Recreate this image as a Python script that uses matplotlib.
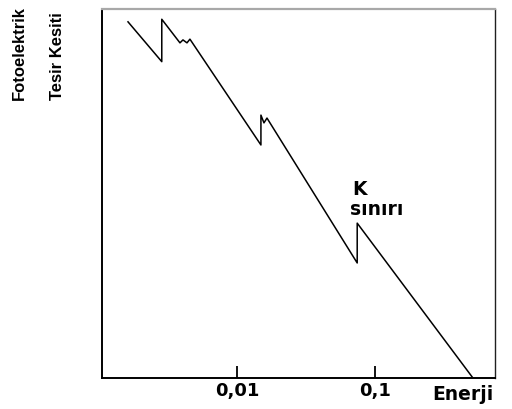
import matplotlib
matplotlib.use("Agg")
import matplotlib.pyplot as plt

# Data (energy on log axis, cross-section in arbitrary log units)
energy = [0.00163, 0.00286, 0.00286, 0.00387, 0.00407, 0.00435, 0.00457,
          0.0149, 0.0149, 0.01567, 0.01648, 0.0740, 0.0740, 0.508]
sigma = [9.66, 8.58, 9.73, 9.09, 9.17, 9.09, 9.19,
         6.32, 7.13, 6.92, 7.05, 3.12, 4.20, 0.0]
tick_values = [0.01, 0.1]
tick_labels = ["0,01", "0,1"]

W, H = 512, 409
fig = plt.figure(figsize=(W / 100, H / 100), dpi=100)
ax = fig.add_axes([101.7 / W, 1 - 378 / H, (495 - 101.7) / W, (378 - 9.3) / H])

ax.plot(energy, sigma, color="black", linewidth=1.1)
ax.set_xscale("log")
ax.set_xlim(0.001052, 0.7336)
ax.set_ylim(0, 10)

ax.set_xticks(tick_values)
ax.set_xticklabels(tick_labels, fontsize=13, fontweight="bold", family="DejaVu Sans")
ax.xaxis.set_minor_locator(matplotlib.ticker.NullLocator())
ax.tick_params(axis="x", direction="in", length=8.5, width=1.3, pad=3, colors="black")
ax.set_yticks([])

for side in ("left", "bottom"):
    ax.spines[side].set_linewidth(1.4)
    ax.spines[side].set_color("black")
ax.spines["right"].set_linewidth(1.0)
ax.spines["right"].set_color("#202020")
ax.spines["top"].set_linewidth(1.6)
ax.spines["top"].set_color("#a8a8a8")

fig.text(432 / W, 1 - 400 / H, "Enerji", ha="left", va="baseline",
         fontsize=13.5, fontweight="bold", family="DejaVu Sans")

fig.text(352 / W, 1 - 195 / H, "K", ha="left", va="baseline",
         fontsize=13.5, fontweight="bold", family="DejaVu Sans")
fig.text(350 / W, 1 - 215 / H, "sınırı", ha="left", va="baseline",
         fontsize=13.5, fontweight="bold", family="DejaVu Sans")

fig.text(19 / W, 1 - 100 / H, "Fotoelektrik", rotation=90, ha="center", va="bottom",
         fontsize=12, fontweight="bold", family=["Liberation Sans", "DejaVu Sans"])
fig.text(57 / W, 1 - 100 / H, "Tesir Kesiti", rotation=90, ha="center", va="bottom",
         fontsize=12, fontweight="bold", family=["Liberation Sans", "DejaVu Sans"])

fig.savefig("out.png", dpi=100)
